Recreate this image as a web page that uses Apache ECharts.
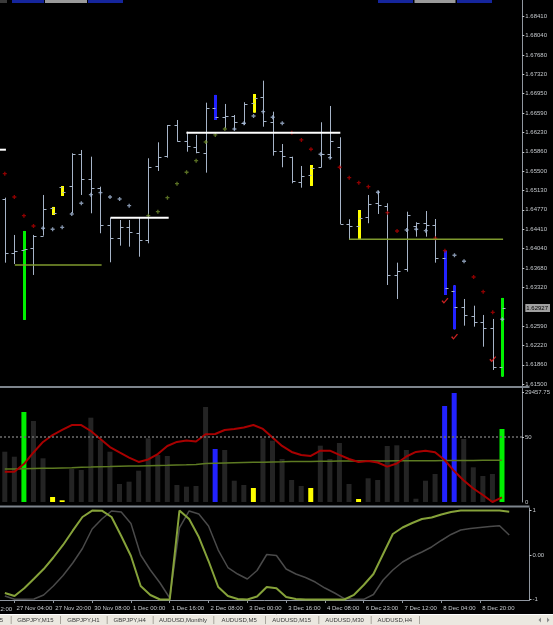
<!DOCTYPE html>
<html>
<head>
<meta charset="utf-8">
<title>AUDUSD,H4</title>
<script src="https://cdn.jsdelivr.net/npm/echarts@6/dist/echarts.min.js"></script>
<style>
  html, body { margin: 0; padding: 0; background: #000; }
  #chart { width: 553px; height: 625px; }
</style>
</head>
<body>
<div id="chart"></div>
<script>
// ---- data (AUDUSD H4) ----
const opens = [1.64968, 1.63954, 1.64016, 1.64048, 1.64285, 1.64799, 1.65193, 1.65218, 1.65819, 1.65349,
  1.65175, 1.64486, 1.64241, 1.64448, 1.64335, 1.64204, 1.65593, 1.65781, 1.66358, 1.66063,
  1.65945, 1.65843, 1.66677, 1.66519, 1.66532, 1.66406, 1.66782, 1.66883, 1.66414, 1.65881,
  1.65768, 1.65299, 1.65424, 1.65569, 1.65813, 1.65945, 1.64499, 1.64467, 1.64630, 1.64893,
  1.64842, 1.63547, 1.63654, 1.64467, 1.64518, 1.64480, 1.63860, 1.63252, 1.62940, 1.62783,
  1.62659, 1.62546, 1.61825]
const highs = [1.64998, 1.64298, 1.64373, 1.64298, 1.65049, 1.64824, 1.65218, 1.65832, 1.65894, 1.65768,
  1.65205, 1.64623, 1.64579, 1.64579, 1.64617, 1.65738, 1.66038, 1.66363, 1.66457, 1.66237,
  1.66176, 1.66782, 1.66927, 1.66758, 1.66551, 1.66790, 1.66945, 1.67195, 1.66613, 1.66006,
  1.65768, 1.65593, 1.65612, 1.66414, 1.66720, 1.66132, 1.64593, 1.64767, 1.65049, 1.65130,
  1.64893, 1.63778, 1.64735, 1.64536, 1.64748, 1.64598, 1.64003, 1.63353, 1.63096, 1.62970,
  1.62796, 1.62721, 1.63115]
const lows = [1.63778, 1.63753, 1.62702, 1.63547, 1.64285, 1.64673, 1.65030, 1.64711, 1.65049, 1.64705,
  1.64330, 1.63785, 1.64097, 1.64078, 1.63890, 1.64142, 1.65500, 1.65749, 1.66050, 1.65862,
  1.65832, 1.65468, 1.66457, 1.66301, 1.66269, 1.66363, 1.66594, 1.66331, 1.65787, 1.65569,
  1.65269, 1.65186, 1.65218, 1.65569, 1.65725, 1.64504, 1.64204, 1.64223, 1.64518, 1.64692,
  1.63359, 1.63096, 1.63609, 1.64266, 1.64266, 1.63778, 1.63171, 1.62527, 1.62595, 1.62576,
  1.62200, 1.61763, 1.61637]
const closes = [1.63965, 1.63997, 1.64035, 1.64279, 1.64786, 1.64705, 1.65105, 1.65819, 1.65349, 1.65186,
  1.64491, 1.64247, 1.64442, 1.64354, 1.64204, 1.65575, 1.65768, 1.66358, 1.66063, 1.65969,
  1.65851, 1.66677, 1.66519, 1.66530, 1.66414, 1.66758, 1.66865, 1.66438, 1.65881, 1.65787,
  1.65312, 1.65411, 1.65562, 1.65813, 1.66063, 1.64510, 1.64467, 1.64617, 1.64874, 1.64861,
  1.63547, 1.63627, 1.64668, 1.64529, 1.64486, 1.63866, 1.63303, 1.62940, 1.62796, 1.62670,
  1.62546, 1.61825, 1.62927]

// volume + signal colouring (g = green, y = yellow, b = blue)
const volumes = [13470, 12130, 24100, 21690, 11700, 1340, 455, 8840, 8570, 22580,
  16600, 13470, 4820, 5440, 8380, 17060, 12590, 12320, 4550, 4100,
  4280, 25440, 14190, 13930, 5700, 4550, 3750, 17060, 16420, 11520,
  5890, 4280, 3750, 15080, 11520, 15800, 4820, 800, 6350, 5890,
  15000, 15180, 13930, 880, 5700, 7500, 25710, 29190, 16870, 9290,
  6960, 7500, 19550]
const signals = ['', '', 'g', '', '', 'y', 'y', '', '', '',
  '', '', '', '', '', '', '', '', '', '',
  '', '', 'b', '', '', '', 'y', '', '', '',
  '', '', 'y', '', '', '', '', 'y', '', '',
  '', '', '', '', '', '', 'b', 'b', '', '',
  '', '', 'g']

// dotted trailing stop (r = red, b = steel blue, o = olive)
const sarValues = [1.65449, 1.65011, 1.64660, 1.64467, 1.64424, 1.64405, 1.64442, 1.64692, 1.64893, 1.65054,
  1.65092, 1.65011, 1.64974, 1.64848, null, 1.64660, 1.64735, 1.64998, 1.65261, 1.65475,
  1.65693, 1.66044, 1.66176, 1.66288, 1.66288, 1.66395, 1.66532, 1.66613, 1.66508, 1.66395,
  1.66219, 1.66082, 1.65907, 1.65813, 1.65749, 1.65569, 1.65374, 1.65280, 1.65205, 1.65100,
  1.64717, 1.64373, 1.64392, 1.64405, 1.64379, 1.64236, 1.64003, 1.63917, 1.63804, 1.63509,
  1.63233, 1.62846, 1.62715]
const sarKinds = ['r', 'r', 'r', 'r', 'b', 'b', 'b', 'b', 'b', 'b',
  'b', 'b', 'b', 'b', '', 'o', 'o', 'o', 'o', 'o',
  'o', 'o', 'o', 'o', 'b', 'b', 'b', 'b', 'b', 'b',
  'r', 'r', 'r', 'b', 'b', 'r', 'r', 'r', 'r', 'b',
  'r', 'r', 'b', 'b', 'b', 'r', 'r', 'b', 'b', 'r',
  'r', 'r', 'b']

const checkBars = [46, 47, 51]
const checkPrices = [1.63064, 1.62388, 1.61964]

// horizontal levels: [fromBar, toBar, price]
const whiteLevels = [[-0.5, 0.12, 1.65899], [11.05, 17.13, 1.64623], [18.98, 35.07, 1.66219]]
const oliveLevels = [[1.05, 10.12, 1.63734], [36.0, 52.08, 1.64217]]

// oscillator in the volume window
const oscMain = [23.2, 23.3, 29.2, 38.1, 46.2, 51.5, 55.4, 59.2, 59.2, 54.6,
  48.5, 42.3, 38.1, 34.2, 30.8, 32.7, 36.9, 43.1, 46.2, 47.3,
  46.5, 52.1, 52.3, 55.4, 56.2, 57.3, 59.2, 56.2, 49.6, 43.1,
  38.5, 36.2, 35.4, 39.5, 39.5, 36.2, 33.1, 30.8, 31.5, 30.4,
  27.2, 29.6, 35.0, 38.5, 39.5, 38.2, 32.3, 23.8, 16.5, 10.4,
  5.4, 0.0, 3.6]
const oscSignal = [25.4, 25.4, 25.6, 25.8, 25.9, 26.0, 26.2, 26.4, 26.7, 26.9,
  27.2, 27.3, 27.5, 27.7, 27.7, 27.9, 28.1, 28.2, 28.5, 28.6,
  28.8, 29.6, 29.8, 30.0, 30.2, 30.4, 30.5, 30.6, 30.8, 30.9,
  31.1, 31.2, 31.2, 31.3, 31.4, 31.5, 31.5, 31.5, 31.5, 31.5,
  31.6, 31.7, 31.7, 31.8, 31.8, 31.8, 31.9, 31.9, 32.0, 32.0,
  32.1, 32.1, 32.1]

// bottom window (-1 .. 1)
const stochMain = [-0.854, -0.921, -0.748, -0.533, -0.315, -0.056, 0.225, 0.546, 0.854, 0.998,
  0.996, 0.854, 0.427, -0.022, -0.697, -0.899, -1.0, -1.0, 1.0, 0.809,
  0.404, -0.135, -0.719, -0.921, -0.989, -1.0, -0.933, -0.719, -0.748, -0.944,
  -0.989, -1.0, -1.0, -1.0, -1.0, -1.0, -0.894, -0.674, -0.427, 0.022,
  0.472, 0.618, 0.719, 0.809, 0.843, 0.910, 0.966, 1.0, 1.0, 1.0,
  1.0, 1.0, 0.973]
const stochSignal = [-0.921, -0.996, -0.996, -0.989, -0.899, -0.697, -0.461, -0.180, 0.146, 0.584,
  0.809, 0.989, 0.966, 0.708, 0.0, -0.337, -0.629, -0.966, 0.607, 0.989,
  0.921, 0.652, 0.112, -0.281, -0.427, -0.539, -0.348, 0.011, -0.011, -0.315,
  -0.427, -0.506, -0.607, -0.742, -0.854, -0.978, -0.996, -0.996, -0.888, -0.562,
  -0.337, -0.157, -0.034, 0.067, 0.180, 0.326, 0.461, 0.562, 0.596, 0.618,
  0.640, 0.658, 0.449]

// axis labels
const priceTicks = [1.61500, 1.61860, 1.62220, 1.62590, 1.63320, 1.63680, 1.64040, 1.64410, 1.64770,
  1.65130, 1.65500, 1.65860, 1.66230, 1.66590, 1.66950, 1.67320, 1.67680, 1.68040, 1.68410]
const timeIdx = [1, 5, 9, 13, 17, 21, 25, 29, 33, 37, 41, 45, 49]
const timeLabels = ['27 Nov 04:00', '27 Nov 20:00', '30 Nov 08:00', '1 Dec 00:00', '1 Dec 16:00',
  '2 Dec 08:00', '3 Dec 00:00', '3 Dec 16:00', '4 Dec 08:00', '6 Dec 23:00', '7 Dec 12:00',
  '8 Dec 04:00', '8 Dec 20:00']
const volMaxLabel = 29457.75
const tabs = ['5', 'GBPJPY,M15', 'GBPJPY,H1', 'GBPJPY,H4', 'AUDUSD,Monthly', 'AUDUSD,M5',
  'AUDUSD,M15', 'AUDUSD,M30', 'AUDUSD,H4']

// ---- styling ----
const FONT = 'Liberation Sans'
const AXIS = '#9097a0'
const TXT = '#c4c8cc'
const BAR = '#a6b4c8'
const sigColor = { g: '#00f000', y: '#ffff00', b: '#2222ff' }
const sarColor = { r: '#b00000', b: '#a4b8d6', o: '#6e8a2c' }
const lastClose = closes[closes.length - 1]

const chart = echarts.init(document.getElementById('chart'))

const xCommon = { type: 'value', min: -0.5, max: 54.09 }

/**
 * OHLC bar with optional colour highlight
 */
const renderBar = (params, api) => {
  const i = api.value(0)
  const o = api.coord([i, api.value(1)])
  const h = api.coord([i, api.value(2)])
  const l = api.coord([i, api.value(3)])
  const c = api.coord([i, api.value(4)])
  const x = Math.round(o[0]) + 0.5
  const st = { stroke: BAR, lineWidth: 1 }
  const kids = [{ type: 'line', shape: { x1: x, y1: h[1], x2: x, y2: l[1] }, style: st }]
  const sig = signals[params.dataIndex]
  if (sig) {
    kids.push({ type: 'rect', shape: { x: x - 1.5, y: h[1], width: 3, height: l[1] - h[1] }, style: { fill: sigColor[sig] } })
  }
  kids.push({ type: 'line', shape: { x1: x - 3, y1: Math.round(o[1]) + 0.5, x2: x, y2: Math.round(o[1]) + 0.5 }, style: st })
  kids.push({ type: 'line', shape: { x1: x, y1: Math.round(c[1]) + 0.5, x2: x + 3, y2: Math.round(c[1]) + 0.5 }, style: st })
  return { type: 'group', children: kids }
}

const levelSeries = (levels, color, width) => levels.map(lv => ({
  type: 'line', xAxisIndex: 0, yAxisIndex: 0, symbol: 'none', silent: true,
  lineStyle: { color: color, width: width },
  data: [[lv[0], lv[2]], [lv[1], lv[2]]]
}))

const lineOn = (x, y, data, color, width) => ({
  type: 'line', xAxisIndex: x, yAxisIndex: y, symbol: 'none', silent: true,
  lineStyle: { color: color, width: width },
  data: data.map((v, i) => [i, v])
})

// decoration: window separators, partly hidden buttons, terminal tab strip
const graphics = [
  { type: 'line', shape: { x1: 0, y1: 387, x2: 529.5, y2: 387 }, style: { stroke: '#7d848c', lineWidth: 2 } },
  { type: 'line', shape: { x1: 0, y1: 506.5, x2: 529.5, y2: 506.5 }, style: { stroke: '#7d848c', lineWidth: 2 } },
  { type: 'text', x: -23.5, y: 609, style: { text: '26 Nov 12:00', fill: TXT, font: '6px ' + FONT, verticalAlign: 'middle' } },
  { type: 'rect', shape: { x: 0, y: 0, width: 7, height: 3 }, style: { fill: '#3a3a3a' } },
  { type: 'rect', shape: { x: 12, y: 0, width: 32, height: 3 }, style: { fill: '#15259c' } },
  { type: 'rect', shape: { x: 45, y: 0, width: 42, height: 3 }, style: { fill: '#9a9a9a' } },
  { type: 'rect', shape: { x: 88, y: 0, width: 35, height: 3 }, style: { fill: '#15259c' } },
  { type: 'rect', shape: { x: 378, y: 0, width: 35, height: 3 }, style: { fill: '#15259c' } },
  { type: 'rect', shape: { x: 414.5, y: 0, width: 41, height: 3 }, style: { fill: '#9a9a9a' } },
  { type: 'rect', shape: { x: 457, y: 0, width: 35, height: 3 }, style: { fill: '#15259c' } },
  { type: 'rect', shape: { x: 0, y: 614.5, width: 553, height: 10.5 }, style: { fill: '#ebe8e0' } },
  { type: 'line', shape: { x1: 0, y1: 614.5, x2: 553, y2: 614.5 }, style: { stroke: '#ffffff', lineWidth: 1 } },
  { type: 'polygon', shape: { points: [[541, 617.5], [541, 622.5], [538.5, 620]] }, style: { fill: '#8a8a8a' } },
  { type: 'polygon', shape: { points: [[547, 617.5], [547, 622.5], [549.5, 620]] }, style: { fill: '#8a8a8a' } }
]
const tabEdges = [-8, 10.7, 60, 106.7, 152.7, 213.3, 265, 318.3, 370.7, 419]
tabs.forEach((t, k) => {
  const a = tabEdges[k], b = tabEdges[k + 1]
  graphics.push({ type: 'line', shape: { x1: b + 0.5, y1: 616, x2: b + 0.5, y2: 624 }, style: { stroke: '#a8a49c', lineWidth: 1 } })
  graphics.push({ type: 'text', x: (a + b) / 2, y: 620, style: { text: t, fill: '#3a3a3a', font: '6px ' + FONT, align: 'center', verticalAlign: 'middle' } })
})

const option = {
  backgroundColor: '#000000',
  animation: false,
  grid: [
    { left: 0, top: 0, width: 529.5, height: 386 },
    { left: 0, top: 388, width: 529.5, height: 114 },
    { left: 0, top: 508, width: 529.5, height: 92 }
  ],
  xAxis: [
    Object.assign({ gridIndex: 0, show: false }, xCommon),
    Object.assign({ gridIndex: 1, show: false }, xCommon),
    Object.assign({
      gridIndex: 2, position: 'bottom',
      axisLine: { show: true, onZero: false, lineStyle: { color: AXIS } },
      axisTick: { show: true, customValues: timeIdx, length: 3, lineStyle: { color: AXIS } },
      axisLabel: {
        customValues: timeIdx, color: TXT, fontFamily: FONT, fontSize: 6, align: 'left', margin: 5,
        padding: [0, 0, 0, 2],
        formatter: v => timeLabels[timeIdx.indexOf(v)] || ''
      },
      splitLine: { show: false }
    }, xCommon)
  ],
  yAxis: [
    {
      gridIndex: 0, type: 'value', position: 'right', min: 1.61462, max: 1.68710,
      axisLine: { show: true, onZero: false, lineStyle: { color: AXIS } },
      axisTick: { show: true, length: 2, customValues: priceTicks, lineStyle: { color: TXT } },
      axisLabel: {
        customValues: priceTicks.concat([lastClose]), color: TXT, fontFamily: FONT, fontSize: 6, margin: 3,
        formatter: v => v === lastClose ? '{cur|' + v.toFixed(5) + '}' : v.toFixed(5),
        rich: { cur: { backgroundColor: '#a0a0a0', color: '#000000', fontFamily: FONT, fontSize: 6, padding: [1, 2, 1, 1] } }
      },
      splitLine: { show: false }
    },
    {
      gridIndex: 1, type: 'value', position: 'right', min: 0, max: 30529,
      axisLine: { show: true, onZero: false, lineStyle: { color: AXIS } },
      axisTick: { show: true, length: 2, customValues: [volMaxLabel], lineStyle: { color: TXT } },
      axisLabel: {
        customValues: [0, volMaxLabel], color: TXT, fontFamily: FONT, fontSize: 6, margin: 3,
        formatter: v => v === 0 ? '0' : v.toFixed(2)
      },
      splitLine: { show: false }
    },
    {
      gridIndex: 1, type: 'value', position: 'right', min: 0, max: 87.69,
      axisLine: { show: false, onZero: false },
      axisTick: { show: true, length: 2, customValues: [50], lineStyle: { color: TXT } },
      axisLabel: { customValues: [50], color: TXT, fontFamily: FONT, fontSize: 6, margin: 3, formatter: v => String(v) },
      splitLine: { show: false }
    },
    {
      gridIndex: 2, type: 'value', position: 'right', min: -1.011, max: 1.056,
      axisLine: { show: true, onZero: false, lineStyle: { color: AXIS } },
      axisTick: { show: true, length: 2, customValues: [1, 0, -1], lineStyle: { color: TXT } },
      axisLabel: {
        customValues: [1, 0, -1], color: TXT, fontFamily: FONT, fontSize: 6, margin: 3,
        formatter: v => v === 0 ? '0.00' : String(v)
      },
      splitLine: { show: false }
    }
  ],
  graphic: graphics,
  series: [
    ...levelSeries(oliveLevels, '#7f9a2e', 1.5),
    ...levelSeries(whiteLevels, '#ffffff', 2),
    {
      type: 'custom', name: 'AUDUSD', xAxisIndex: 0, yAxisIndex: 0,
      renderItem: renderBar, encode: { x: 0, y: [1, 2, 3, 4] },
      data: opens.map((o, i) => [i, o, highs[i], lows[i], closes[i]])
    },
    {
      type: 'scatter', xAxisIndex: 0, yAxisIndex: 0, silent: true,
      symbol: 'path://M1,0H2V1H3V2H2V3H1V2H0V1H1Z', symbolSize: 4,
      data: sarValues.map((v, i) => ({ value: [i, v], itemStyle: { color: sarColor[sarKinds[i]] || 'transparent' } }))
        .filter(d => d.value[1] !== null)
    },
    {
      type: 'scatter', xAxisIndex: 0, yAxisIndex: 0, silent: true,
      symbol: 'path://M0,4L1.5,3L2.5,5L6,0L7,1L2.5,7Z', symbolSize: [7, 6],
      itemStyle: { color: '#ff2a2a' },
      data: checkBars.map((b, k) => [b, checkPrices[k]])
    },
    {
      type: 'bar', xAxisIndex: 1, yAxisIndex: 1, barWidth: 5, silent: true,
      data: volumes.map((v, i) => ({ value: [i, v], itemStyle: { color: signals[i] ? sigColor[signals[i]] : '#242424' } }))
    },
    lineOn(1, 2, oscSignal, '#5d7a22', 1.5),
    Object.assign(lineOn(1, 2, oscMain, '#a80000', 2), {
      markLine: {
        silent: true, symbol: 'none', label: { show: false },
        lineStyle: { color: '#6e6e6e', type: [2, 2], width: 1.5 },
        data: [{ yAxis: 50 }]
      }
    }),
    lineOn(2, 3, stochSignal, '#4a4a4a', 1.5),
    lineOn(2, 3, stochMain, '#86a23a', 2)
  ]
}

chart.setOption(option)
</script>
</body>
</html>
